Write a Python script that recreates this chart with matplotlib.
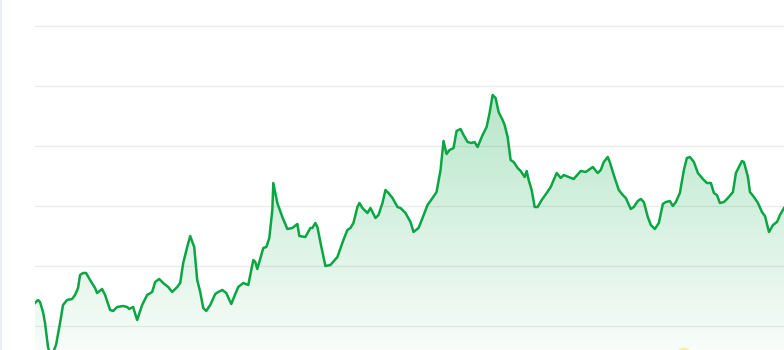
import matplotlib
matplotlib.use("Agg")
import matplotlib.pyplot as plt
import numpy as np
from matplotlib.lines import Line2D

# day index and price
days = [0, 3, 5, 8, 10, 13, 16, 19, 21, 25, 28, 32, 37, 40, 43, 45, 48, 51, 55, 60,
        62, 67, 70, 75, 78, 82, 88, 92, 94, 98, 102, 107, 112, 117, 120, 124, 128, 133, 137, 142,
        145, 148, 152, 155, 159, 162, 165, 168, 171, 175, 180, 183, 187, 191, 196, 200, 203, 208, 213, 218,
        220, 222, 228, 231, 234, 237, 238, 242, 247, 252, 257, 262, 264, 270, 275, 277, 280, 282, 286, 290,
        295, 302, 308, 312, 315, 318, 322, 324, 327, 332, 335, 340, 343, 347, 350, 353, 357, 362, 365, 370,
        375, 378, 383, 387, 392, 397, 401, 405, 408, 411, 414, 418, 421, 425, 428, 432, 436, 439, 442, 447,
        451, 454, 457, 460, 463, 467, 469, 472, 475, 478, 482, 485, 489, 491, 493, 496, 499, 502, 506, 511,
        515, 518, 521, 525, 528, 533, 538, 545, 550, 557, 562, 565, 568, 572, 574, 578, 583, 587, 590, 595,
        598, 602, 605, 608, 612, 615, 619, 623, 627, 630, 634, 637, 640, 644, 648, 651, 654, 658, 662, 667,
        671, 675, 678, 681, 684, 688, 692, 697, 700, 703, 706, 708, 712, 714, 718, 722, 726, 729, 733, 737,
        741, 744, 748]
prices = [83, 86, 84, 74, 63, 39, 28, 36, 41, 63, 81, 86, 87, 91, 98, 111, 113, 113, 106, 98,
          93, 97, 91, 76, 75, 79, 80, 79, 77, 79, 66, 81, 91, 94, 104, 107, 103, 99, 94, 99,
          103, 123, 139, 150, 139, 106, 94, 78, 75, 81, 92, 94, 96, 93, 82, 92, 99, 103, 101, 126,
          124, 117, 138, 139, 148, 176, 203, 183, 169, 157, 158, 162, 150, 149, 158, 158, 163, 159, 139, 120,
          121, 129, 146, 156, 158, 163, 179, 183, 178, 173, 178, 168, 171, 183, 196, 193, 188, 179, 178, 173,
          164, 154, 158, 168, 181, 188, 194, 216, 245, 232, 236, 238, 255, 257, 251, 244, 243, 244, 239, 251,
          259, 273, 291, 288, 274, 266, 261, 249, 226, 224, 218, 215, 209, 215, 206, 196, 179, 179, 186, 193,
          199, 206, 213, 208, 211, 209, 207, 215, 214, 219, 213, 216, 224, 229, 224, 211, 196, 191, 188, 177,
          179, 185, 187, 184, 169, 161, 157, 163, 182, 184, 185, 180, 184, 193, 216, 228, 229, 224, 213, 207,
          203, 203, 193, 191, 183, 184, 188, 194, 213, 219, 225, 224, 209, 194, 189, 183, 174, 170, 154, 161,
          164, 171, 178]
grid_levels = [60, 120, 180, 240, 300, 360]
marker_day, marker_price = 648, 30

W, H = 784, 350
fig = plt.figure(figsize=(W / 100, H / 100), dpi=100)
ax = fig.add_axes([35 / W, 0, (W - 35) / W, 1])
ax.set_xlim(0, 748)
ax.set_ylim(36, 386)

x = np.array(days)
y = np.array(prices)

for g in grid_levels:
    ax.axhline(g, color="#ebebeb", lw=1, zorder=0)

# gradient fill under the line
ymin, ymax = ax.get_ylim()
grad = np.linspace(0, 1, 256).reshape(-1, 1)
rgba = np.zeros((256, 1, 4))
rgba[..., 0] = 0.06
rgba[..., 1] = 0.68
rgba[..., 2] = 0.30
rgba[..., 3] = 0.03 + 0.27 * np.clip((grad * (ymax - ymin)) / (291 - ymin), 0, 1)
img = ax.imshow(rgba, extent=[0, 748, ymin, ymax], origin="lower", aspect="auto", zorder=1)
poly = ax.fill_between(x, y, ymin, color="none")
img.set_clip_path(poly.get_paths()[0], transform=ax.transData)

ax.plot(x, y, color="#0ba544", lw=1.8, zorder=3, solid_joinstyle="round")
ax.scatter([marker_day], [marker_price], s=150, color="#fcef9f", zorder=2, edgecolors="none")

for s in ax.spines.values():
    s.set_visible(False)
ax.set_xticks([])
ax.set_yticks([])

fig.add_artist(Line2D([0.8 / W, 0.8 / W], [0, 1], color="#eceff3", lw=1.5))

fig.savefig("out.png", dpi=100)
